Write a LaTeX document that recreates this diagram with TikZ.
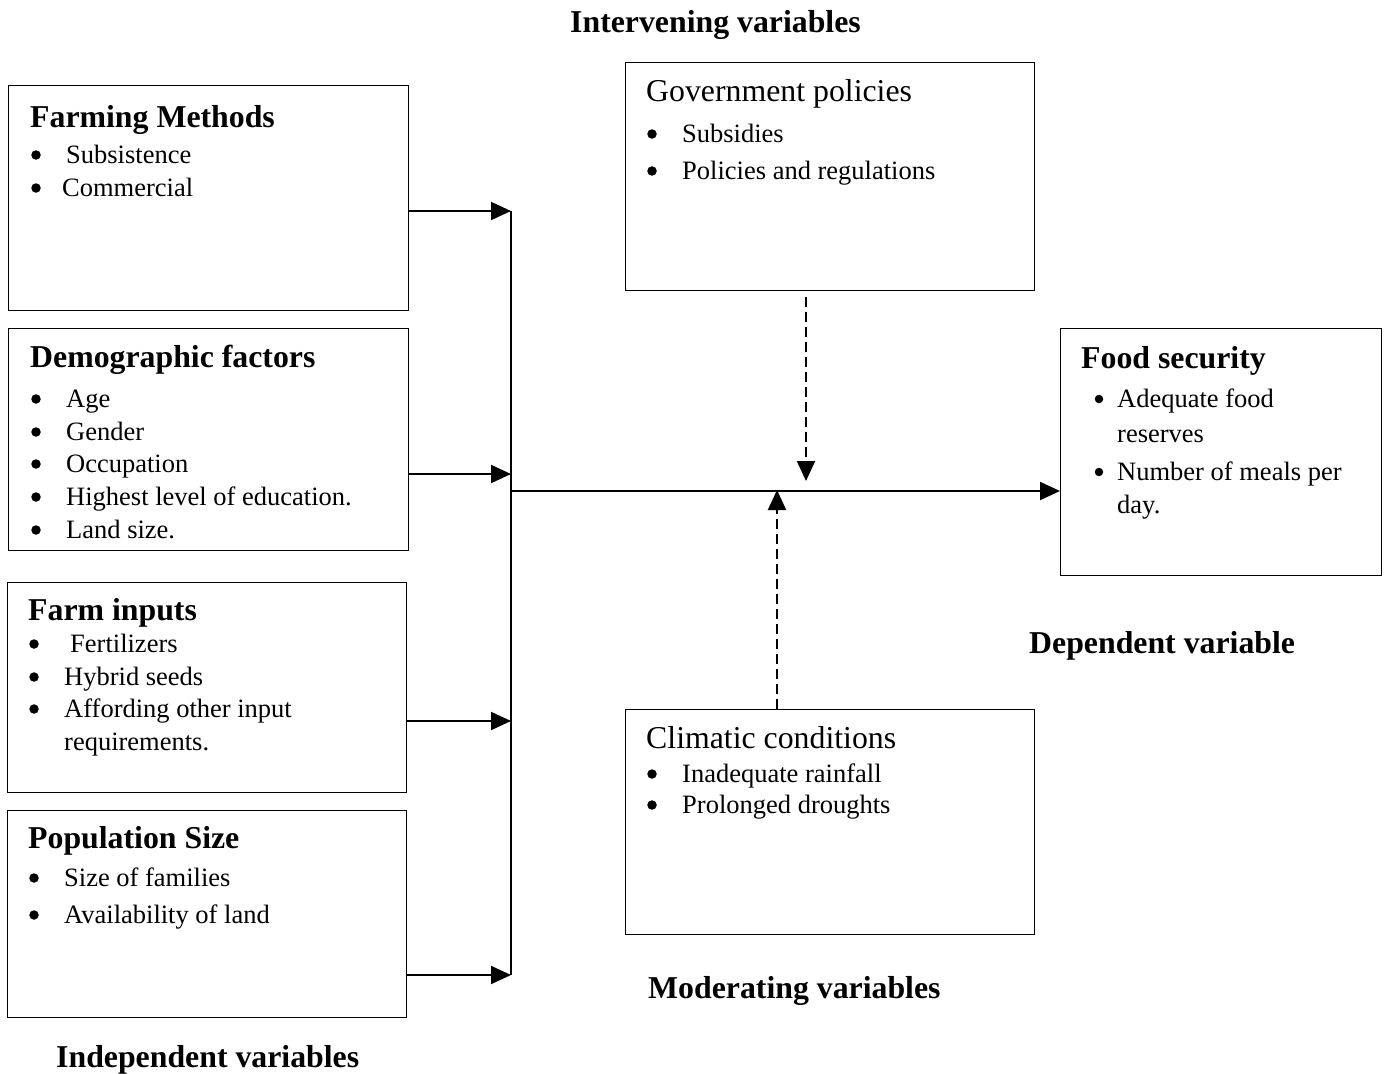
\documentclass[tikz,border=0pt]{standalone}
\usepackage{fontspec}
\setmainfont{Liberation Serif}
\usetikzlibrary{arrows.meta}
\newcommand{\bodyfont}{\fontsize{26.5}{32}\selectfont}
\newcommand{\headfont}{\fontsize{31.8}{38}\selectfont}
\begin{document}
\begin{tikzpicture}[x=1pt,y=-1pt,
  box/.style={draw, line width=1.3pt, anchor=north west, inner sep=0pt},
  txt/.style={anchor=base west, inner sep=0pt, font=\bodyfont},
  hd/.style={anchor=base west, inner sep=0pt, font=\headfont\bfseries},
  ttl/.style={anchor=base west, inner sep=0pt, font=\headfont},
  bul/.style={circle, fill, inner sep=0pt, minimum size=9.5pt, yshift=8pt},
  arr/.style={line width=2pt, -{Triangle[length=20pt,width=18pt]}},
  dasharr/.style={line width=2pt, dash pattern=on 10pt off 5pt, -{Triangle[length=20pt,width=18pt]}}]
\useasboundingbox (0,0) rectangle (1385,1074);
\fill[white] (0,0) rectangle (1385,1074);
% boxes
\node[box, minimum width=400pt, minimum height=225pt] (fm) at (8,85) {};
\node[box, minimum width=400pt, minimum height=222pt] (df) at (8,328) {};
\node[box, minimum width=399pt, minimum height=210pt] (fi) at (7,582) {};
\node[box, minimum width=399pt, minimum height=207pt] (ps) at (7,810) {};
\node[box, minimum width=409pt, minimum height=228pt] (gp) at (625,62) {};
\node[box, minimum width=409pt, minimum height=225pt] (cc) at (625,709) {};
\node[box, minimum width=321pt, minimum height=247pt] (fs) at (1060,328) {};
% Farming methods
\node[hd] (fmh) at (30,127) {Farming Methods};
\node[bul] (fmb1) at (36,163) {};
\node[txt] (fmt1) at (66,163) {Subsistence};
\node[bul] (fmb2) at (36,196) {};
\node[txt] (fmt2) at (62,196) {Commercial};
% Demographic
\node[hd] (dfh) at (30,367) {Demographic factors};
\node[bul] (dfb1) at (36,407) {};
\node[txt] (dft1) at (66,407) {Age};
\node[bul] (dfb2) at (36,440) {};
\node[txt] (dft2) at (66,440) {Gender};
\node[bul] (dfb3) at (36,472) {};
\node[txt] (dft3) at (66,472) {Occupation};
\node[bul] (dfb4) at (36,505) {};
\node[txt] (dft4) at (66,505) {Highest level of education.};
\node[bul] (dfb5) at (36,538) {};
\node[txt] (dft5) at (66,538) {Land size.};
% Farm inputs
\node[hd] (fih) at (28,620) {Farm inputs};
\node[bul] (fib1) at (34,652) {};
\node[txt] (fit1) at (70,652) {Fertilizers};
\node[bul] (fib2) at (34,685) {};
\node[txt] (fit2) at (64,685) {Hybrid seeds};
\node[bul] (fib3) at (34,717) {};
\node[txt] (fit3) at (64,717) {Affording other input};
\node[txt] (fit4) at (64,750) {requirements.};
% Population size
\node[hd] (psh) at (28,848) {Population Size};
\node[bul] (psb1) at (34,886) {};
\node[txt] (pst1) at (64,886) {Size of families};
\node[bul] (psb2) at (34,923) {};
\node[txt] (pst2) at (64,923) {Availability of land};
% Government policies
\node[ttl] (gph) at (646,101) {Government policies};
\node[bul] (gpb1) at (652,142) {};
\node[txt] (gpt1) at (682,142) {Subsidies};
\node[bul] (gpb2) at (652,179) {};
\node[txt] (gpt2) at (682,179) {Policies and regulations};
% Climatic conditions
\node[ttl] (cch) at (646,748) {Climatic conditions};
\node[bul] (ccb1) at (652,782) {};
\node[txt] (cct1) at (682,782) {Inadequate rainfall};
\node[bul] (ccb2) at (652,813) {};
\node[txt] (cct2) at (682,813) {Prolonged droughts};
% Food security
\node[hd] (fsh) at (1081,368) {Food security};
\node[bul, minimum size=8.5pt] (fsb1) at (1099,407) {};
\node[txt] (fst1) at (1117,407) {Adequate food};
\node[txt] (fst2) at (1117,442) {reserves};
\node[bul, minimum size=8.5pt] (fsb2) at (1099,480) {};
\node[txt] (fst3) at (1117,480) {Number of meals per};
\node[txt] (fst4) at (1117,513) {day.};
% group labels
\node[hd] (lint) at (570,32) {Intervening variables};
\node[hd] (lind) at (56,1067) {Independent variables};
\node[hd] (ldep) at (1029,653) {Dependent variable};
\node[hd] (lmod) at (648,998) {Moderating variables};
% connectors
\coordinate (j1) at (511,211);
\coordinate (j2) at (511,474);
\coordinate (j3) at (511,721);
\coordinate (j4) at (511,975);
\coordinate (jm) at (511,491);
\draw[line width=2.2pt] (j1) -- (j4);
\draw[arr] (j1 -| fm.east) -- (j1);
\draw[arr] (j2 -| df.east) -- (j2);
\draw[arr] (j3 -| fi.east) -- (j3);
\draw[arr] (j4 -| ps.east) -- (j4);
\draw[arr] (jm) -- (jm -| fs.west);
\coordinate (ds) at (806,297);
\coordinate (de) at (806,481);
\draw[dasharr] (ds) -- (de);
\coordinate (ue) at (777,490);
\draw[dasharr] (ue |- cc.north) -- (ue);
\end{tikzpicture}
\end{document}
